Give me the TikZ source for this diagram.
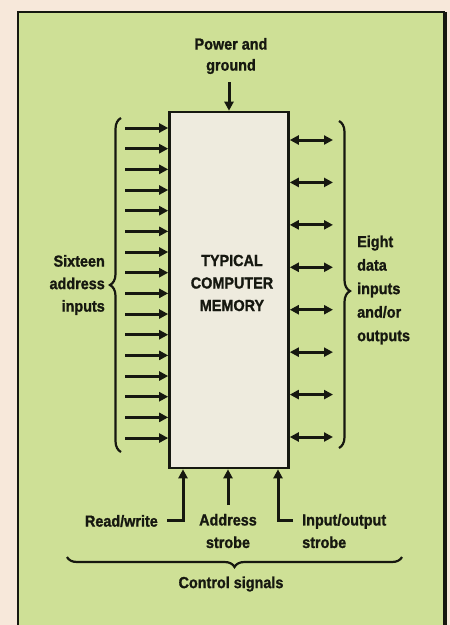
\documentclass[tikz,border=0pt]{standalone}
\usepackage{fontspec}
\setmainfont[FakeStretch=0.9,FakeBold=1.2]{Liberation Sans}
\usetikzlibrary{arrows.meta,decorations.pathreplacing}
\definecolor{bgout}{RGB}{247,232,218}
\definecolor{panel}{RGB}{206,224,150}
\definecolor{boxfill}{RGB}{238,235,222}
\definecolor{ink}{RGB}{22,24,16}
\begin{document}
\begin{tikzpicture}[x=1pt,y=-1pt,
  every node/.style={font=\fontsize{16}{22.5}\selectfont\bfseries, text=ink},
  lbl/.style={align=center, inner sep=0pt},
  wire/.style={draw=ink, line width=3pt},
  inarrow/.style={wire, -{Triangle[length=9pt,width=9pt]}},
  bidir/.style={wire, {Triangle[length=9pt,width=9pt]}-{Triangle[length=9pt,width=9pt]}},
  bracestyle/.style={draw=ink, line width=2.2pt, decorate},
]
\useasboundingbox (0,0) rectangle (450,625);
\fill[bgout] (0,0) rectangle (450,625);
\fill[panel] (18,12) rectangle (445,625);
\draw[ink, line width=2.5pt] (18,625) -- (18,12) -- (445,12);
\draw[ink, line width=3.5pt] (445,12) -- (445,625);

% memory block
\node[draw=ink, line width=2.6pt, fill=boxfill, minimum width=119pt, minimum height=356pt, inner sep=0pt] (mem) at (229,290) {};
\node[lbl] (memtext) at (232,283) {TYPICAL\\COMPUTER\\MEMORY};

% power and ground
\node[lbl, font=\fontsize{16}{21}\selectfont\bfseries] (pwr) at (231,56) {Power and\\ground};
\coordinate (ptop) at (229,82);
\draw[inarrow] (ptop) -- (ptop |- mem.north);

% sixteen address inputs
\foreach \i in {0,...,15} {
  \coordinate (la\i) at (125, 128+20.67*\i);
  \draw[inarrow] (la\i) -- (la\i -| mem.west);
}
\coordinate (lbb) at (121,452);
\coordinate (lbt) at (121,118);
\draw[bracestyle, decoration={brace, amplitude=11pt, aspect=0.5}] (lbb) -- (lbt);
\node[lbl, align=right, anchor=east] (addr) at (105,285) {Sixteen\\address\\inputs};

% eight data lines
\foreach \i in {0,...,7} {
  \coordinate (ra\i) at (333, 140+42.43*\i);
  \draw[bidir] (ra\i -| mem.east) -- (ra\i);
}
\coordinate (rbt) at (339,121);
\coordinate (rbb) at (339,448);
\draw[bracestyle, decoration={brace, amplitude=11pt, aspect=0.52}] (rbt) -- (rbb);
\node[lbl, align=left, anchor=west, font=\fontsize{16}{23.5}\selectfont\bfseries] (data) at (357,290) {Eight\\data\\inputs\\and/or\\outputs};

% control signals
\coordinate (rw) at (167,520);
\coordinate (rwc) at (183,520);
\draw[inarrow] (rw) -- (rwc) -- (rwc |- mem.south);
\coordinate (as) at (228,505);
\draw[inarrow] (as) -- (as |- mem.south);
\coordinate (io) at (293,520);
\coordinate (ioc) at (278,520);
\draw[inarrow] (io) -- (ioc) -- (ioc |- mem.south);

\node[lbl, anchor=east] (rwl) at (158,521) {Read/write};
\node[lbl] (asl) at (228,531) {Address\\strobe};
\node[lbl, align=left, anchor=west] (iol) at (302,531) {Input/output\\strobe};

\coordinate (bbr) at (402,557);
\coordinate (bbl) at (67,557);
\draw[bracestyle, decoration={brace, amplitude=10pt, aspect=0.5}] (bbr) -- (bbl);
\node[lbl] (ctl) at (231,584) {Control signals};
\end{tikzpicture}
\end{document}
